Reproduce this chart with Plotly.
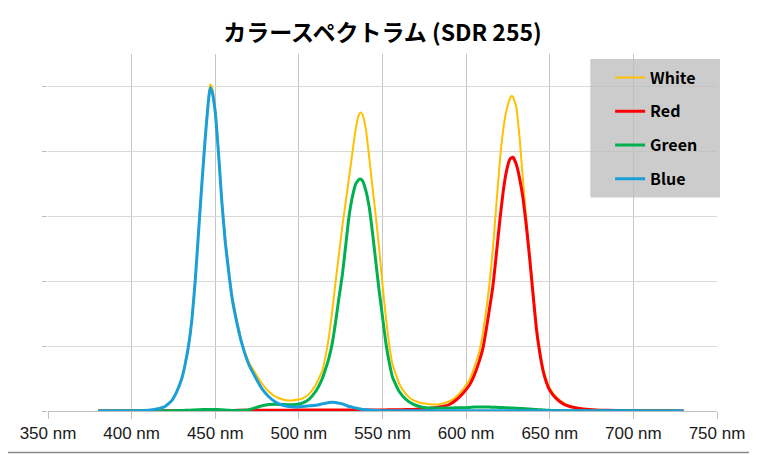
import plotly.graph_objects as go

# wavelength samples (nm), denser around the peaks
wavelength_nm = [
    380, 390, 400, 405, 410, 415, 420, 424, 427, 430, 432, 434, 436, 438, 440, 442, 444, 446,
    447, 448, 450, 452, 454, 456, 458, 460, 463, 466, 470, 474, 478, 482, 486, 490, 494, 498, 502, 506, 510,
    514, 516, 518, 520, 522, 524, 526, 528, 530, 532, 534, 536, 537, 538, 540, 542, 544, 546, 548, 550, 552, 554, 556,
    560, 564, 568, 572, 576, 580, 585, 590, 594, 598, 602, 605, 608, 610, 612, 614,
    616, 618, 620, 622, 624, 626, 627, 628, 630, 632, 634, 636, 638, 640, 642, 644, 646, 648, 650,
    654, 658, 662, 666, 670, 675, 680, 690, 700, 710, 720, 730,
]

white = [
    0, 0, 0, 0.005, 0.01, 0.03, 0.07, 0.16, 0.3, 0.5, 0.72, 1.0, 1.4, 2.0, 2.77, 3.53, 4.24, 4.85,
    5.03, 4.99, 4.66, 4.0, 3.25, 2.65, 2.2, 1.8, 1.4, 1.05, 0.76, 0.58, 0.42, 0.3, 0.22, 0.18, 0.16, 0.17, 0.19, 0.26, 0.4,
    0.62, 0.85, 1.15, 1.55, 2.0, 2.42, 2.85, 3.22, 3.6, 3.98, 4.35, 4.57, 4.6, 4.57, 4.35, 3.92, 3.45, 3.0, 2.5, 1.95, 1.45, 1.02, 0.72,
    0.42, 0.26, 0.17, 0.13, 0.11, 0.1, 0.11, 0.15, 0.22, 0.33, 0.48, 0.68, 0.93, 1.2, 1.55, 1.97,
    2.5, 3.15, 3.8, 4.3, 4.62, 4.8, 4.85, 4.84, 4.68, 4.2, 3.55, 2.95, 2.4, 1.85, 1.32, 0.95, 0.66, 0.48, 0.35,
    0.21, 0.13, 0.08, 0.05, 0.035, 0.022, 0.015, 0.01, 0.006, 0.004, 0.002, 0,
]

red = [
    0, 0, 0, 0, 0, 0, 0.002, 0.003, 0.004, 0.005, 0.005, 0.006, 0.006, 0.007, 0.007, 0.008, 0.008, 0.008,
    0.008, 0.008, 0.008, 0.008, 0.008, 0.008, 0.008, 0.009, 0.01, 0.01, 0.01, 0.01, 0.011, 0.012, 0.012, 0.013, 0.013, 0.014, 0.014, 0.015, 0.015,
    0.016, 0.016, 0.016, 0.017, 0.017, 0.017, 0.017, 0.017, 0.017, 0.017, 0.017, 0.017, 0.017, 0.017, 0.017, 0.017, 0.017, 0.017, 0.017, 0.017, 0.017, 0.018, 0.018,
    0.02, 0.022, 0.025, 0.03, 0.035, 0.045, 0.065, 0.1, 0.17, 0.27, 0.4, 0.56, 0.78, 0.96, 1.25, 1.58,
    1.92, 2.4, 2.9, 3.35, 3.68, 3.87, 3.9, 3.91, 3.8, 3.58, 3.28, 2.85, 2.35, 1.8, 1.27, 0.9, 0.62, 0.44, 0.32,
    0.19, 0.11, 0.07, 0.045, 0.03, 0.02, 0.013, 0.008, 0.005, 0.003, 0.002, 0,
]

green = [
    0, 0, 0, 0, 0, 0, 0.002, 0.004, 0.006, 0.008, 0.01, 0.012, 0.015, 0.017, 0.02, 0.022, 0.024, 0.025,
    0.025, 0.025, 0.024, 0.022, 0.018, 0.014, 0.01, 0.008, 0.007, 0.01, 0.02, 0.05, 0.08, 0.1, 0.105, 0.1, 0.095, 0.1, 0.12, 0.18, 0.3,
    0.5, 0.65, 0.82, 1.05, 1.38, 1.75, 2.1, 2.55, 3.0, 3.3, 3.5, 3.57, 3.57, 3.55, 3.4, 3.15, 2.75, 2.3, 1.85, 1.45, 1.05, 0.75, 0.52,
    0.3, 0.18, 0.11, 0.07, 0.05, 0.045, 0.045, 0.045, 0.05, 0.05, 0.055, 0.06, 0.06, 0.06, 0.06, 0.06,
    0.058, 0.056, 0.055, 0.053, 0.05, 0.048, 0.047, 0.046, 0.044, 0.04, 0.037, 0.033, 0.03, 0.026, 0.022, 0.019, 0.016, 0.013, 0.01,
    0.007, 0.005, 0.003, 0.002, 0.001, 0, 0, 0, 0, 0, 0, 0,
]

blue = [
    0, 0, 0, 0.005, 0.01, 0.03, 0.07, 0.16, 0.3, 0.5, 0.72, 1.0, 1.4, 2.0, 2.75, 3.5, 4.2, 4.8,
    4.98, 4.93, 4.6, 3.95, 3.2, 2.6, 2.15, 1.75, 1.35, 1.03, 0.72, 0.52, 0.34, 0.22, 0.14, 0.09, 0.07, 0.06, 0.07, 0.08, 0.09,
    0.11, 0.12, 0.13, 0.135, 0.13, 0.12, 0.11, 0.09, 0.07, 0.06, 0.045, 0.035, 0.03, 0.025, 0.02, 0.015, 0.01, 0.008, 0.006, 0.005, 0.004, 0.003, 0.003,
    0.002, 0.002, 0.002, 0.002, 0.002, 0.002, 0.002, 0.002, 0.002, 0.002, 0.002, 0.002, 0.002, 0.002, 0.002, 0.002,
    0.002, 0.002, 0.002, 0.002, 0.002, 0.002, 0.002, 0.002, 0.002, 0.002, 0.002, 0.002, 0.002, 0.002, 0.002, 0.002, 0.002, 0.002, 0.002,
    0.002, 0.002, 0.002, 0.002, 0.002, 0.002, 0.002, 0.002, 0.002, 0.001, 0.001, 0,
]

series_names = ["White", "Red", "Green", "Blue"]
series_colors = ["#FFC000", "#FF0000", "#00B050", "#1A9FD9"]
series_widths = [2, 3, 3, 3]

for s in (white, red, green, blue):
    assert len(s) == len(wavelength_nm)

# the page puts the figure 8px in from the corner, so the figure is 8px smaller
OFF = 8
W, H = 757 - OFF, 455 - OFF
L, R, T, B = 35, 38, 46, 43
pw, ph = W - L - R, H - T - B

# screen pixel -> paper fraction
def px_x(x):
    return (x - OFF - L) / pw

def px_y(y):
    return (H - B - (y - OFF)) / ph

fig = go.Figure()
for name, vals, col, lw in zip(series_names, [white, red, green, blue], series_colors, series_widths):
    fig.add_trace(go.Scatter(
        x=wavelength_nm, y=vals, name=name, mode="lines", legendgroup=name,
        line=dict(color=col, width=lw, shape="spline", smoothing=0.4),
    ))

# legend box (semi-transparent grey) and chart border
fig.add_shape(type="rect", xref="paper", yref="paper",
              x0=px_x(591), x1=px_x(722), y0=px_y(198), y1=px_y(59),
              fillcolor="rgba(187,187,187,0.75)", line_width=0, layer="above")
fig.add_shape(type="rect", xref="paper", yref="paper",
              x0=px_x(-5), x1=px_x(755.5), y0=px_y(453.5), y1=px_y(-5),
              line=dict(color="#8a8a8a", width=1.5), fillcolor="rgba(0,0,0,0)")

fig.update_layout(
    width=W, height=H,
    margin=dict(l=L, r=R, t=T, b=B),
    paper_bgcolor="white", plot_bgcolor="white",
    title=dict(text="カラースペクトラム (SDR 255)", x=0.5, xanchor="center",
               y=1 - (33 - OFF) / H, yanchor="middle",
               font=dict(family="Noto Sans CJK JP", size=23, color="#000", weight="bold")),
    legend=dict(x=px_x(611), y=px_y(60.5), xanchor="left", yanchor="top",
                bgcolor="rgba(0,0,0,0)", tracegroupgap=10,
                font=dict(family="Noto Sans CJK JP", size=16, color="#000", weight="bold")),
    showlegend=True,
)
fig.update_xaxes(range=[350, 750], dtick=50, ticksuffix=" nm", showgrid=True, gridcolor="#c6c6c6",
                 ticks="outside", ticklen=7, tickcolor="#bfbfbf", showline=True, linecolor="#bfbfbf",
                 zeroline=False, tickfont=dict(family="Liberation Sans", size=17, color="#1a1a1a"))
fig.update_yaxes(range=[0, 5.5], dtick=1, showticklabels=False, showgrid=True, gridcolor="#d9d9d9",
                 ticks="outside", ticklen=5, tickcolor="#bfbfbf", zeroline=False)

fig.write_html("out.html")
